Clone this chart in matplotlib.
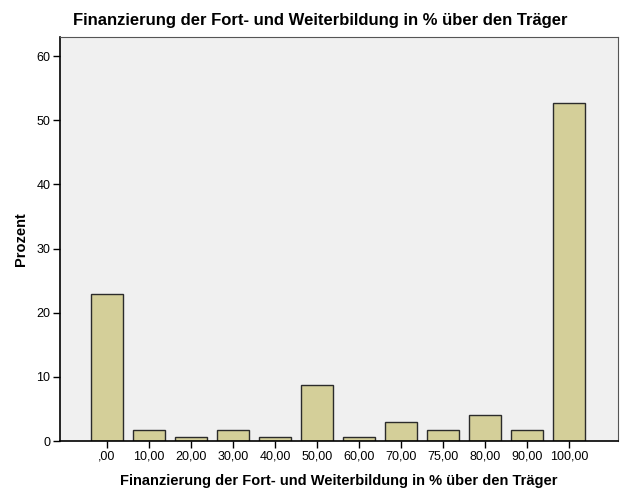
import matplotlib
matplotlib.use("Agg")
import matplotlib.pyplot as plt
import numpy as np

plt.rcParams['font.family'] = ['Liberation Sans', 'DejaVu Sans']

# Werte (Prozent)
kategorien = [',00', '10,00', '20,00', '30,00', '40,00', '50,00',
              '60,00', '70,00', '75,00', '80,00', '90,00', '100,00']
prozent = [22.9, 1.7, 0.6, 1.7, 0.6, 8.8, 0.6, 2.9, 1.7, 4.0, 1.7, 52.7]
y_ticks = [0, 10, 20, 30, 40, 50, 60]

fig = plt.figure(figsize=(6.26, 5.01), dpi=100)
ax = fig.add_axes([60/626, 60/501, 558/626, 404/501])
ax.set_facecolor('#f0f0f0')

x = np.arange(len(kategorien))
ax.bar(x, prozent, width=0.76, color='#d4cf99', edgecolor='#2b2b2b', lw=1)

ax.set_xlim(-1.12, len(kategorien) - 1 + 1.17)
ax.set_ylim(0, 63)
ax.set_yticks(y_ticks)
ax.set_xticks(x)
ax.set_xticklabels(kategorien)
ax.tick_params(axis='both', labelsize=9, length=5, width=1, direction='out', pad=2)

for s in ['top', 'right']:
    ax.spines[s].set_color('#555555')
for s in ['left', 'bottom']:
    ax.spines[s].set_color('black')
    ax.spines[s].set_linewidth(1.2)

fig.text(73/626, 1 - 20/501, 'Finanzierung der Fort- und Weiterbildung in % über den Träger',
         fontsize=12, fontweight='bold', ha='left', va='center')
ax.set_xlabel('Finanzierung der Fort- und Weiterbildung in % über den Träger',
              fontsize=10.5, fontweight='bold', labelpad=8)
ax.set_ylabel('Prozent', fontsize=10.5, fontweight='bold', labelpad=6)

plt.savefig('out.png', dpi=100)
